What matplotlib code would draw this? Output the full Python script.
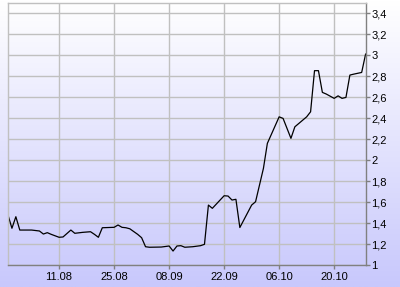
import numpy as np
import pandas as pd
import matplotlib
matplotlib.use('Agg')
import matplotlib.pyplot as plt
import matplotlib.dates as mdates
from matplotlib.ticker import FixedLocator, FuncFormatter

# --- dados ---
dates = ['2008-07-29', '2008-07-30', '2008-07-31', '2008-08-01', '2008-08-04',
         '2008-08-06', '2008-08-07', '2008-08-08', '2008-08-09', '2008-08-11',
         '2008-08-12', '2008-08-14', '2008-08-15', '2008-08-17', '2008-08-19',
         '2008-08-20', '2008-08-21', '2008-08-22', '2008-08-25', '2008-08-26',
         '2008-08-27', '2008-08-28', '2008-08-29', '2008-08-31', '2008-09-01',
         '2008-09-02', '2008-09-03', '2008-09-06', '2008-09-08', '2008-09-09',
         '2008-09-10', '2008-09-11', '2008-09-12', '2008-09-14', '2008-09-16',
         '2008-09-17', '2008-09-18', '2008-09-19', '2008-09-22', '2008-09-23',
         '2008-09-24', '2008-09-25', '2008-09-26', '2008-09-29', '2008-09-30',
         '2008-10-01', '2008-10-02', '2008-10-03', '2008-10-06', '2008-10-07',
         '2008-10-09', '2008-10-10', '2008-10-13', '2008-10-14', '2008-10-15',
         '2008-10-16', '2008-10-17', '2008-10-18', '2008-10-20', '2008-10-21',
         '2008-10-22', '2008-10-23', '2008-10-24', '2008-10-25', '2008-10-27',
         '2008-10-28']
values = [1.476, 1.350, 1.460, 1.333, 1.333,
          1.324, 1.295, 1.308, 1.292, 1.264,
          1.267, 1.333, 1.302, 1.311, 1.317,
          1.292, 1.264, 1.355, 1.359, 1.381,
          1.359, 1.355, 1.345, 1.292, 1.260,
          1.174, 1.169, 1.171, 1.181, 1.133,
          1.181, 1.184, 1.169, 1.174, 1.184,
          1.197, 1.571, 1.540, 1.660, 1.657,
          1.619, 1.626, 1.357, 1.571, 1.603,
          1.762, 1.921, 2.159, 2.412, 2.397,
          2.207, 2.317, 2.412, 2.460, 2.852,
          2.852, 2.645, 2.629, 2.588, 2.612,
          2.588, 2.597, 2.810, 2.819, 2.835,
          3.010]

x_ticks = ['2008-08-11', '2008-08-25', '2008-09-08', '2008-09-22', '2008-10-06', '2008-10-20']
y_ticks = [1, 1.2, 1.4, 1.6, 1.8, 2, 2.2, 2.4, 2.6, 2.8, 3, 3.2, 3.4]

x = pd.to_datetime(dates)

plt.rcParams['font.family'] = ['Liberation Sans', 'DejaVu Sans']

fig = plt.figure(figsize=(4.0, 2.87), dpi=100)

# fundo em degradê (branco -> lilás) na figura toda
bg = fig.add_axes([0, 0, 1, 1], zorder=0)
grad = np.linspace(0, 1, 256).reshape(-1, 1)
top_c = np.array([1.0, 1.0, 1.0])
bot_c = np.array([200, 200, 252]) / 255
img = top_c + (bot_c - top_c) * grad[:, :, None]
bg.imshow(img, aspect='auto', extent=[0, 1, 0, 1])
bg.axis('off')

ax = fig.add_axes([0.02, 0.0767, 0.894, 0.914], zorder=1)
ax.patch.set_alpha(0)
ax.plot(x, values, color='black', lw=0.9)

ax.set_xlim(pd.Timestamp('2008-07-29'), pd.Timestamp('2008-10-28'))
ax.set_ylim(1, 3.5)

ax.xaxis.set_major_locator(FixedLocator(mdates.date2num(pd.to_datetime(x_ticks))))
ax.xaxis.set_major_formatter(mdates.DateFormatter('%d.%m'))
ax.yaxis.set_major_locator(FixedLocator(y_ticks))
ax.yaxis.set_major_formatter(FuncFormatter(lambda v, p: ('%g' % v).replace('.', ',')))
ax.yaxis.tick_right()

ax.grid(True, color='#c0c0c0', lw=1)
ax.set_axisbelow(True)
for s in ['left', 'top']:
    ax.spines[s].set_color('#c0c0c0')
for s in ['right', 'bottom']:
    ax.spines[s].set_color('#808080')
for s in ax.spines.values():
    s.set_linewidth(1)

ax.tick_params(axis='y', direction='out', length=3, width=1, color='#808080', pad=1, labelsize=8)
ax.tick_params(axis='x', direction='out', length=3, width=1, color='#808080', pad=2, labelsize=8)

fig.savefig('out.png', dpi=100)
